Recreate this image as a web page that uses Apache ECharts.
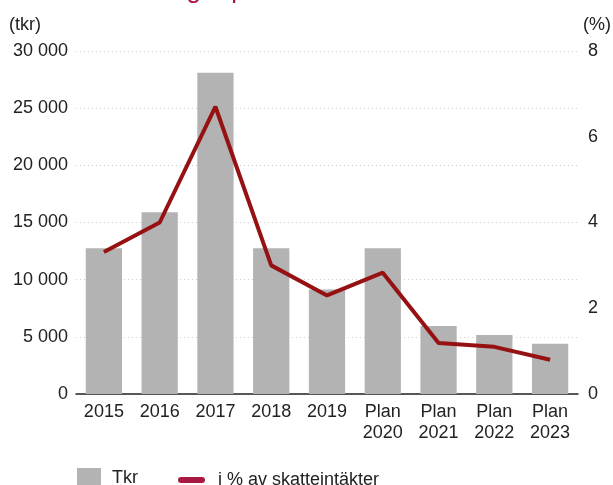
<!DOCTYPE html>
<html>
<head>
<meta charset="utf-8">
<script src="https://cdn.jsdelivr.net/npm/echarts@6/dist/echarts.min.js"></script>
<style>
  html, body { margin: 0; padding: 0; background: #fff; }
  #chart { width: 613px; height: 485px; }
</style>
</head>
<body>
<div id="chart"></div>
<script>
// data
const categories = ['2015', '2016', '2017', '2018', '2019', 'Plan\n2020', 'Plan\n2021', 'Plan\n2022', 'Plan\n2023']
const tkrValues = [12750, 15900, 28100, 12750, 9150, 12750, 5950, 5150, 4400]
const percentValues = [3.31, 4.0, 6.7, 3.0, 2.3, 2.83, 1.19, 1.1, 0.8]

const fontFamily = '"Liberation Sans", Arial, sans-serif'
const textColor = '#222'
const barColor = '#b3b3b3'
const lineColor = '#961212'
const legendLineColor = '#a8193d'

const chart = echarts.init(document.getElementById('chart'))

const formatThousands = (v) => String(v).replace(/\B(?=(\d{3})+(?!\d))/g, ' ')

const option = {
  animation: false,
  textStyle: { fontFamily: fontFamily },
  title: {
    text: 'Nettoinvesteringar per år',
    left: 8,
    top: -27,
    textStyle: { color: legendLineColor, fontSize: 26, fontWeight: 'normal', fontFamily: fontFamily }
  },
  graphic: [
    {
      type: 'text',
      left: 9,
      top: 16,
      style: { text: '(tkr)', fontSize: 18, fill: textColor, fontFamily: fontFamily }
    },
    {
      type: 'text',
      right: 2,
      top: 16,
      style: { text: '(%)', fontSize: 18, fill: textColor, fontFamily: fontFamily }
    }
  ],
  grid: {
    left: 76,
    right: 35,
    top: 51,
    bottom: 91,
    containLabel: false
  },
  legend: [
    {
      data: [{ name: 'Tkr', icon: 'rect' }],
      left: 77,
      top: 468,
      padding: 0,
      itemWidth: 24,
      itemHeight: 20,
      itemGap: 0,
      textStyle: { fontSize: 18, color: textColor, padding: [0, 0, 0, 6] }
    },
    {
      data: [{
        name: 'i % av skatteintäkter',
        icon: 'path://M3,0H24A3,3 0 0 1 24,6H3A3,3 0 0 1 3,0Z',
        itemStyle: { color: legendLineColor }
      }],
      left: 178,
      top: 471,
      padding: 0,
      itemWidth: 27,
      itemHeight: 6,
      textStyle: { fontSize: 18, color: textColor, padding: [0, 0, 0, 8] }
    }
  ],
  xAxis: {
    type: 'category',
    data: categories,
    axisLine: { lineStyle: { color: textColor, width: 1.5 } },
    axisTick: { show: false },
    axisLabel: {
      color: textColor,
      fontSize: 18,
      lineHeight: 21,
      margin: 8,
      interval: 0
    }
  },
  yAxis: [
    {
      type: 'value',
      min: 0,
      max: 30000,
      interval: 5000,
      axisLine: { show: false },
      axisTick: { show: false },
      axisLabel: {
        color: textColor,
        fontSize: 18,
        margin: 8,
        formatter: formatThousands
      },
      splitLine: {
        lineStyle: { color: '#cfcfcf', type: [1, 3], width: 1 }
      }
    },
    {
      type: 'value',
      min: 0,
      max: 8,
      interval: 2,
      axisLine: { show: false },
      axisTick: { show: false },
      axisLabel: { color: textColor, fontSize: 18, margin: 10 },
      splitLine: { show: false }
    }
  ],
  series: [
    {
      name: 'Tkr',
      type: 'bar',
      data: tkrValues,
      barWidth: '65%',
      itemStyle: { color: barColor },
      yAxisIndex: 0
    },
    {
      name: 'i % av skatteintäkter',
      type: 'line',
      data: percentValues,
      yAxisIndex: 1,
      symbol: 'none',
      lineStyle: { color: lineColor, width: 4 },
      itemStyle: { color: lineColor }
    }
  ]
}

chart.setOption(option)
</script>
</body>
</html>
